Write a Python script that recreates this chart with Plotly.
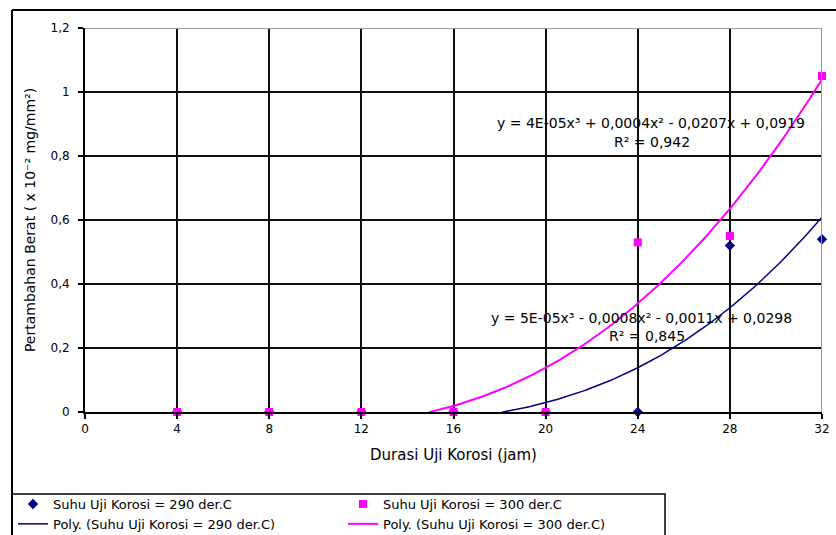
import numpy as np
import plotly.graph_objects as go

# ---------------- data ----------------
durasi = [4, 8, 12, 16, 20, 24, 28, 32]
berat_290 = [0, 0, 0, 0, 0, 0, 0.52, 0.54]
berat_300 = [0, 0, 0, 0, 0, 0.53, 0.55, 1.05]

x_ticks = [0, 4, 8, 12, 16, 20, 24, 28, 32]
x_ticklabels = ["0", "4", "8", "12", "16", "20", "24", "28", "32"]
y_ticks = [0, 0.2, 0.4, 0.6, 0.8, 1.0, 1.2]
y_ticklabels = ["0", "0,2", "0,4", "0,6", "0,8", "1", "1,2"]

name_290 = "Suhu Uji Korosi = 290 der.C"
name_300 = "Suhu Uji Korosi = 300 der.C"
poly_290 = "Poly. (Suhu Uji Korosi = 290 der.C)"
poly_300 = "Poly. (Suhu Uji Korosi = 300 der.C)"
eq_300 = "y = 4E-05x³ + 0,0004x² - 0,0207x + 0,0919"
r2_300 = "R² = 0,942"
eq_290 = "y = 5E-05x³ - 0,0008x² - 0,0011x + 0,0298"
r2_290 = "R² = 0,845"
x_title = "Durasi Uji Korosi (jam)"
y_title = "Pertambahan Berat ( x 10⁻² mg/mm²)"


# ------------- trendlines (cubic least-squares fit of the data) -------------
def cubic_trend(xv, yv):
    xs = np.linspace(min(xv), max(xv), 400)
    ys = np.polyval(np.polyfit(xv, yv, 3), xs)
    neg = np.where(ys < 0)[0]
    start = neg[-1] if len(neg) else 0
    ys = ys.astype(object)
    ys[:start] = None  # show the rising branch above the axis only
    return xs, list(ys)


xs_290, fit_290 = cubic_trend(durasi, berat_290)
xs_300, fit_300 = cubic_trend(durasi, berat_300)

BLUE = "#000080"
PINK = "#FF00FF"
FONT = "DejaVu Sans"

W, H = 836, 535
L, R, T, B = 85, 14, 28, 123
PW, PH = W - L - R, H - T - B


def px(xp):
    return (xp - L) / PW


def py(yp):
    return (H - B - yp) / PH


fig = go.Figure()
fig.add_trace(go.Scatter(x=durasi, y=berat_290, mode="markers", name=name_290,
                         marker=dict(symbol="diamond", size=8, color=BLUE),
                         cliponaxis=False, legend="legend"))
fig.add_trace(go.Scatter(x=durasi, y=berat_300, mode="markers", name=name_300,
                         marker=dict(symbol="square", size=8, color=PINK),
                         cliponaxis=False, legend="legend2"))
fig.add_trace(go.Scatter(x=xs_290, y=fit_290, mode="lines", name=poly_290,
                         line=dict(color=BLUE, width=1.5), legend="legend"))
fig.add_trace(go.Scatter(x=xs_300, y=fit_300, mode="lines", name=poly_300,
                         line=dict(color=PINK, width=2), legend="legend2"))

axis_common = dict(showgrid=True, gridcolor="#111111", gridwidth=1.5,
                   showline=True, linecolor="black", linewidth=2,
                   ticks="outside", ticklen=5, tickwidth=1.5, tickcolor="black",
                   zeroline=False, tickfont=dict(family=FONT, size=12, color="black"))

fig.update_xaxes(range=[0, 32], tickmode="array", tickvals=x_ticks, ticktext=x_ticklabels,
                 title=dict(text=x_title, font=dict(family=FONT, size=15, color="black"), standoff=14),
                 **axis_common)
fig.update_yaxes(range=[0, 1.2], tickmode="array", tickvals=y_ticks, ticktext=y_ticklabels,
                 ticklabelstandoff=6,
                 title=dict(text=y_title, font=dict(family=FONT, size=14, color="black"), standoff=12),
                 **axis_common)

legend_common = dict(orientation="v", xanchor="left", yanchor="top", y=py(489),
                     bgcolor="rgba(0,0,0,0)", borderwidth=0, itemwidth=30, tracegroupgap=0,
                     font=dict(family=FONT, size=13, color="black"))

shapes = [
    # outer chart frame (top and left edges)
    dict(type="line", xref="paper", yref="paper", x0=px(12), x1=px(850), y0=py(10), y1=py(10),
         line=dict(color="black", width=2)),
    dict(type="line", xref="paper", yref="paper", x0=px(12), x1=px(12), y0=py(10), y1=py(560),
         line=dict(color="black", width=2)),
    # legend frame
    dict(type="rect", xref="paper", yref="paper", x0=px(12), x1=px(665), y0=py(494), y1=py(560),
         line=dict(color="black", width=1.5)),
    # plot-area top / right border (grey)
    dict(type="line", xref="x", yref="y", x0=0, x1=32, y0=1.2, y1=1.2, layer="above",
         line=dict(color="#9a9a9a", width=2)),
    dict(type="line", xref="x", yref="y", x0=32, x1=32, y0=0, y1=1.2, layer="above",
         line=dict(color="#9a9a9a", width=2)),
]

ann_font = dict(family=FONT, size=14, color="black")
annotations = [
    dict(x=px(651), y=py(123), xref="paper", yref="paper", text=eq_300, showarrow=False,
         xanchor="center", yanchor="middle", font=ann_font),
    dict(x=px(652), y=py(142), xref="paper", yref="paper", text=r2_300, showarrow=False,
         xanchor="center", yanchor="middle", font=ann_font),
    dict(x=px(641), y=py(318), xref="paper", yref="paper", text=eq_290, showarrow=False,
         xanchor="center", yanchor="middle", font=ann_font),
    dict(x=px(647), y=py(336), xref="paper", yref="paper", text=r2_290, showarrow=False,
         xanchor="center", yanchor="middle", font=ann_font),
]

fig.update_layout(
    width=W, height=H,
    margin=dict(l=L, r=R, t=T, b=B, autoexpand=False),
    paper_bgcolor="white", plot_bgcolor="white",
    font=dict(family=FONT, color="black"),
    showlegend=True,
    legend=dict(x=px(13), **legend_common),
    legend2=dict(x=px(343), **legend_common),
    shapes=shapes,
    annotations=annotations,
)

fig.write_html("out.html", config={"displayModeBar": False},
               post_script="document.body.style.margin='0';document.body.style.overflow='hidden';")
